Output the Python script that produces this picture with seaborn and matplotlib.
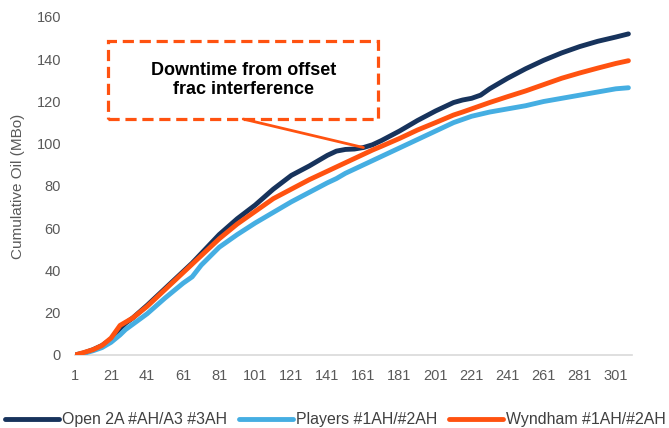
import numpy as np
import pandas as pd
import matplotlib
matplotlib.use("Agg")
import matplotlib.pyplot as plt
from matplotlib.patches import Rectangle
import seaborn as sns

# Production day (x axis category) and cumulative oil (MBo) per well group
days = [1, 6, 11, 16, 21, 26, 29, 33, 41, 51, 61, 66, 71, 81, 91, 101, 111, 121,
        131, 141, 146, 151, 156, 161, 166, 171, 181, 191, 201, 211, 216, 221,
        226, 231, 241, 251, 261, 271, 281, 291, 301, 308]
open_2a = [0, 1, 2.5, 4.5, 7.5, 12.5, 15, 17.5, 23.5, 31.5, 39.5, 43.5, 48, 57,
           64.5, 71, 78.5, 85, 89.5, 94.5, 96.5, 97.3, 97.5, 98.2, 99.5, 101.5,
           106, 111, 115.5, 119.5, 120.7, 121.5, 123, 126, 131, 135.5, 139.5,
           143, 146, 148.5, 150.5, 152]
players = [0, 0.8, 2, 3.5, 6, 9.5, 12, 14.5, 19.5, 27, 34, 37, 42.5, 51, 57,
           62.5, 67.5, 72.5, 77, 81.5, 83.5, 86, 88, 90, 92, 94, 98, 102, 106,
           110, 111.5, 113, 114, 115, 116.5, 118, 120, 121.5, 123, 124.5, 126,
           126.5]
wyndham = [0, 1.2, 2.5, 4.5, 8, 14, 15.5, 17.5, 23, 31, 39, 43, 47, 55, 62, 68,
           74, 78.5, 83, 87, 89, 91, 93, 95, 97, 98.8, 102.5, 106.5, 110, 113.6,
           115, 116.5, 118, 119.5, 122.3, 125, 128, 131, 133.5, 135.8, 138,
           139.3]

series_names = ["Open 2A #AH/A3 #3AH", "Players #1AH/#2AH", "Wyndham #1AH/#2AH"]
colors = ["#17335C", "#45AEE2", "#FF5210"]
x_ticks = list(range(1, 302, 20))
y_ticks = list(range(0, 161, 20))

annot_text = "Downtime from offset\nfrac interference"
annot_day = 161

df = pd.concat([
    pd.DataFrame({"Day": days, "Cum": vals, "Well": name})
    for name, vals in zip(series_names, [open_2a, players, wyndham])
])

sns.set_theme(style="white")
plt.rcParams["font.family"] = ["Liberation Sans", "DejaVu Sans"]

fig = plt.figure(figsize=(6.69, 4.28), dpi=100)
ax = fig.add_axes([0.1121, 0.1706, 0.8326, 0.7897])

sns.lineplot(data=df, x="Day", y="Cum", hue="Well", hue_order=series_names,
             palette=colors, linewidth=3.5, ax=ax, legend=True,
             solid_capstyle="round")

ax.set_xlim(1, 310)
ax.set_ylim(0, 160)
ax.set_xticks(x_ticks)
ax.set_yticks(y_ticks)
ax.tick_params(axis="y", length=0, labelsize=10.5, colors="#595959", pad=10)
ax.tick_params(axis="x", length=0, labelsize=10.5, colors="#595959", pad=10)
ax.set_xlabel("")
ax.set_ylabel("Cumulative Oil (MBo)", fontsize=11, color="#595959", labelpad=8.5)

for s in ["top", "right", "left"]:
    ax.spines[s].set_visible(False)
ax.spines["bottom"].set_color("#D9D9D9")
ax.spines["bottom"].set_linewidth(1.2)
ax.spines["bottom"].set_zorder(0)
ax.grid(False)

# Callout box and leader line
box_x0, box_x1 = 19.3, 169.3
box_y0, box_y1 = 111.7, 148.6
ax.add_patch(Rectangle((box_x0, box_y0), box_x1 - box_x0, box_y1 - box_y0,
                       fill=False, edgecolor="#FF5210", linewidth=2.3,
                       linestyle=(0, (3.5, 1.8)), zorder=5, clip_on=False))
ax.text((box_x0 + box_x1) / 2, (box_y0 + box_y1) / 2, annot_text,
        ha="center", va="center", fontsize=13, fontweight="bold",
        color="black", linespacing=1.2, zorder=6)
target_y = open_2a[days.index(annot_day)]
ax.annotate("", xy=(annot_day, target_y), xytext=((box_x0 + box_x1) / 2, box_y0),
            arrowprops=dict(arrowstyle="-", color="#FF5210", linewidth=2.0,
                            shrinkA=0, shrinkB=0), zorder=6)

handles, labels = ax.get_legend_handles_labels()
ax.legend(handles, labels, loc="center", bbox_to_anchor=(0.468, -0.192),
          ncol=3, frameon=False, fontsize=11.4, handlelength=3.4,
          handletextpad=0.2, columnspacing=0.75, labelcolor="#404040",
          borderaxespad=0, borderpad=0)

fig.savefig("out.png", dpi=100)
